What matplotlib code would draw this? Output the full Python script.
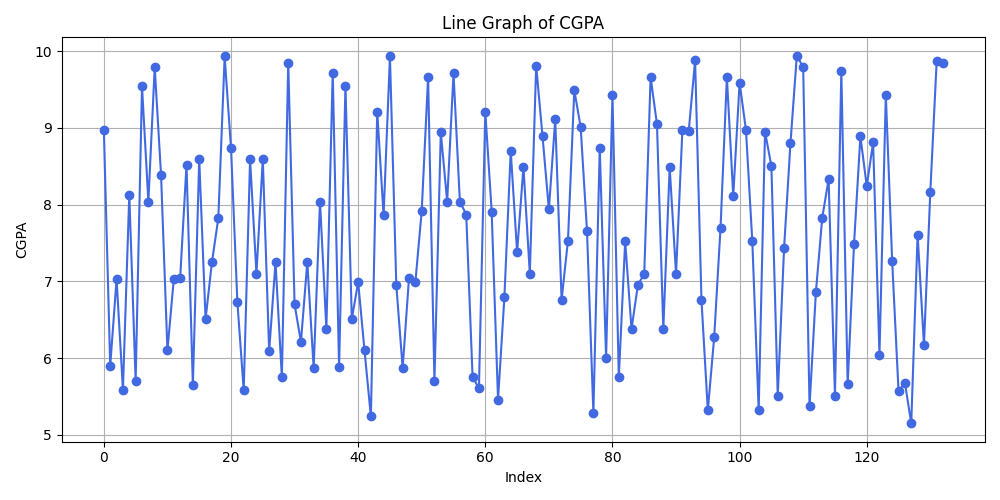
import matplotlib
matplotlib.use('Agg')
import matplotlib.pyplot as plt

# CGPA values, one per row index
cgpa = [
    8.97, 5.90, 7.03, 5.59, 8.13, 5.70, 9.54, 8.04, 9.79, 8.38,
    6.10, 7.03, 7.04, 8.52, 5.65, 8.59, 6.51, 7.25, 7.82, 9.93,
    8.74, 6.73, 5.58, 8.59, 7.10, 8.59, 6.09, 7.25, 5.75, 9.85,
    6.70, 6.21, 7.25, 5.87, 8.04, 6.38, 9.72, 5.88, 9.55, 6.51,
    6.99, 6.10, 5.24, 9.21, 7.86, 9.93, 6.95, 5.87, 7.05, 6.99,
    7.92, 9.66, 5.70, 8.94, 8.04, 9.71, 8.04, 7.87, 5.75, 5.61,
    9.21, 7.91, 5.46, 6.79, 8.70, 7.38, 8.49, 7.10, 9.81, 8.89,
    7.94, 9.11, 6.76, 7.53, 9.49, 9.01, 7.65, 5.28, 8.74, 6.00,
    9.43, 5.75, 7.52, 6.38, 6.95, 7.10, 9.66, 9.05, 6.38, 8.49,
    7.10, 8.97, 8.96, 9.88, 6.76, 5.32, 6.27, 7.70, 9.66, 8.11,
    9.59, 8.97, 7.52, 5.32, 8.95, 8.50, 5.51, 7.44, 8.80, 9.94,
    9.79, 5.37, 6.86, 7.83, 8.33, 5.51, 9.74, 5.66, 7.49, 8.89,
    8.24, 8.81, 6.04, 9.43, 7.26, 5.57, 5.68, 5.15, 7.61, 6.17,
    8.17, 9.87, 9.85,
]
index = list(range(len(cgpa)))

plt.figure(figsize=(10, 5), dpi=100)
plt.plot(index, cgpa, marker='o', color='royalblue')
plt.title('Line Graph of CGPA')
plt.xlabel('Index')
plt.ylabel('CGPA')
plt.grid(True)
plt.tight_layout()
plt.savefig('out.png')
